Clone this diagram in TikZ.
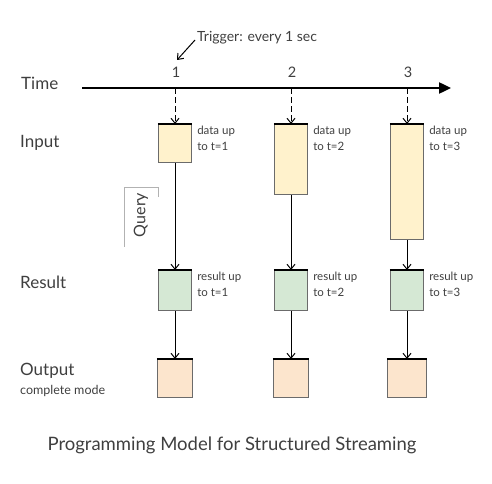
\documentclass[tikz,border=0pt]{standalone}
\usepackage{fontspec}
\setmainfont{Lato}
\usepackage{xcolor}
\usepackage{tikz}
\usetikzlibrary{arrows.meta,positioning,calc}
\definecolor{txtgray}{HTML}{3F3F3F}
\definecolor{inyellow}{HTML}{FFF2CC}
\definecolor{resgreen}{HTML}{D5E8D4}
\definecolor{outpeach}{HTML}{FCE5CD}
\definecolor{boxline}{HTML}{6B6B6B}

\begin{document}
\begin{tikzpicture}[
    x=1pt, y=1pt,
    nosep/.style={inner sep=0},
    txt/.style={text=txtgray, nosep},
    rowlabel/.style={txt, anchor=west, font=\fontsize{17}{19}\selectfont},
    note/.style={txt, anchor=north west, align=left, font=\fontsize{11.5}{16}\selectfont},
    stepbox/.style={draw=boxline, line width=1.1pt, minimum width=33pt, nosep, anchor=north},
    inbox/.style={stepbox, fill=inyellow},
    resbox/.style={stepbox, fill=resgreen, minimum height=40pt},
    outbox/.style={stepbox, fill=outpeach, minimum height=38pt, minimum width=35pt},
    conn/.style={-{Straight Barb[length=5pt,width=8pt]}, line width=1pt},
    trig/.style={conn, dash pattern=on 6pt off 3pt}]
\useasboundingbox (0,0) rectangle (492,483);

% time axis
\coordinate (axL) at (82,395);
\coordinate (axR) at (451,395);
\draw[line width=2.4pt, -{Triangle[length=12pt,width=11pt]}] (axL) -- (axR);
\node[rowlabel] (lTime) at (21,400) {Time};

% row labels
\node[rowlabel] (lInput)  at (20,340) {Input};
\node[rowlabel] (lResult) at (20,201) {Result};
\node[rowlabel] (lOutput) at (20,112) {Output};
\node[txt, font=\fontsize{12.5}{14}\selectfont, below=6pt of lOutput.south west, anchor=north west] (lMode) {complete mode};

% trigger note
\node[txt, anchor=west, font=\fontsize{14}{16}\selectfont] (trigger) at (197,445) {Trigger: every 1 sec};
\coordinate (trigTip) at (177,423);
\draw[-{Straight Barb[length=5pt,width=8pt]}, line width=1pt] ([xshift=-2pt,yshift=-2pt]trigger.west) -- (trigTip);

% one column per trigger
\foreach \i/\x/\h/\ow in {1/175/38/35, 2/291/70/35, 3/407/115/39} {
    \coordinate (t\i) at (\x,395);
    \node[txt, font=\fontsize{14.5}{16}\selectfont] (n\i) at (\x+1,411) {\i};
    \node[inbox, minimum height=\h pt] (in\i) at (\x,359) {};
    \node[resbox] (res\i) at (\x,213) {};
    \node[outbox, minimum width=\ow pt] (out\i) at (\x,124) {};
    \node[note] (din\i) at ([xshift=5pt,yshift=-2pt]in\i.north east) {data up\\to t=\i};
    \node[note] (dres\i) at ([xshift=5pt,yshift=-2pt]res\i.north east) {result up\\to t=\i};
    \draw[trig] (t\i) -- (in\i.north);
    \draw[conn] (in\i.south) -- (res\i.north);
    \draw[conn] (res\i.south) -- (out\i.north);
    \draw[line width=1.4pt] (in\i.north west) -- (in\i.north east);
    \draw[line width=1.4pt] (res\i.north west) -- (res\i.north east);
    \draw[line width=1.4pt] (out\i.north west) -- (out\i.north east);
}

% query bracket
\draw[gray!60, line width=0.6pt] (158,286) -- (158,296) -- (124,296) -- (124,236);
\node[txt, rotate=90, font=\fontsize{16}{18}\selectfont] (query) at (141,268) {Query};

% caption
\node[txt, font=\fontsize{18.5}{21}\selectfont] (title) at (232,38) {Programming Model for Structured Streaming};
\end{tikzpicture}
\end{document}
